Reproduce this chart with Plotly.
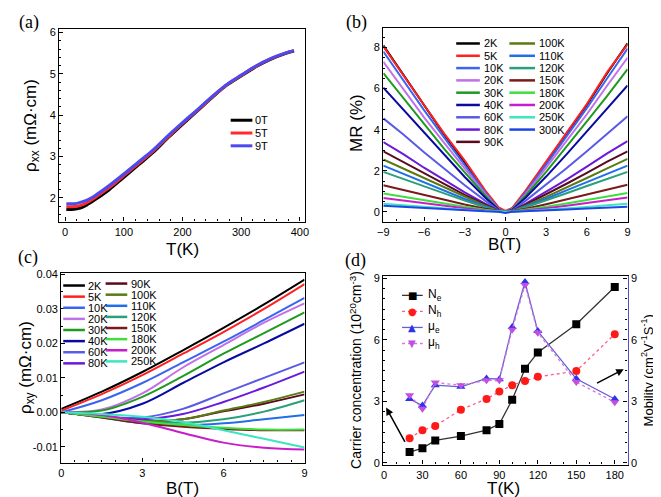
import plotly.graph_objects as go

W, H = 661, 497
FONT = "Liberation Sans, Arial, sans-serif"
SERIF = "Liberation Serif, Times New Roman, serif"

# ---------------- (a) rho_xx vs T ----------------
T_a = [2, 10, 20, 30, 40, 50, 75, 100, 125, 150, 175, 200, 225, 250, 275, 300, 325, 350, 375, 390]
rho_0T = [1.72, 1.72, 1.74, 1.78, 1.86, 1.95, 2.20, 2.50, 2.80, 3.10, 3.45, 3.78, 4.10, 4.42, 4.72, 4.95, 5.17, 5.35, 5.49, 5.55]
rho_5T = [1.79, 1.79, 1.80, 1.84, 1.91, 2.00, 2.25, 2.54, 2.83, 3.13, 3.47, 3.80, 4.11, 4.43, 4.73, 4.96, 5.18, 5.36, 5.50, 5.56]
rho_9T = [1.86, 1.86, 1.87, 1.91, 1.97, 2.05, 2.30, 2.58, 2.87, 3.16, 3.50, 3.82, 4.13, 4.45, 4.74, 4.97, 5.19, 5.37, 5.50, 5.56]
fields_a = ["0T", "5T", "9T"]
colors_a = ["#000000", "#ff2a2a", "#4a4af0"]

# ---------------- (b) MR vs B ----------------
B_b = [-9, -7.5, -6, -4.5, -3, -1.5, -0.5, 0, 0.5, 1.5, 3, 4.5, 6, 7.5, 9]
mr_2K = [8.10, 6.65, 5.15, 3.75, 2.40, 1.00, 0.16, 0.00, 0.16, 1.00, 2.40, 3.80, 5.20, 6.75, 8.20]
mr_5K = [8.05, 6.60, 5.20, 3.80, 2.50, 1.05, 0.22, 0.05, 0.20, 1.05, 2.45, 3.85, 5.25, 6.80, 8.15]
mr_10K = [7.80, 6.35, 4.95, 3.60, 2.30, 0.95, 0.15, 0.00, 0.15, 0.95, 2.30, 3.65, 5.05, 6.50, 7.95]
mr_20K = [7.30, 5.95, 4.60, 3.35, 2.10, 0.88, 0.13, 0.00, 0.13, 0.88, 2.15, 3.45, 4.75, 6.15, 7.50]
mr_30K = [6.75, 5.50, 4.25, 3.05, 1.92, 0.80, 0.12, 0.00, 0.12, 0.80, 1.95, 3.15, 4.40, 5.65, 6.95]
mr_40K = [6.05, 4.95, 3.85, 2.75, 1.70, 0.70, 0.10, 0.00, 0.10, 0.70, 1.72, 2.80, 3.90, 5.00, 6.15]
mr_60K = [4.55, 3.75, 2.90, 2.10, 1.30, 0.55, 0.08, 0.00, 0.08, 0.55, 1.32, 2.12, 2.95, 3.80, 4.65]
mr_80K = [3.40, 2.80, 2.15, 1.55, 0.95, 0.40, 0.06, 0.00, 0.06, 0.40, 0.97, 1.57, 2.20, 2.85, 3.45]
mr_90K = [2.95, 2.42, 1.87, 1.35, 0.83, 0.35, 0.05, 0.00, 0.05, 0.35, 0.84, 1.37, 1.90, 2.45, 2.95]
mr_100K = [2.55, 2.10, 1.62, 1.17, 0.72, 0.30, 0.05, 0.00, 0.05, 0.30, 0.73, 1.18, 1.65, 2.12, 2.58]
mr_110K = [2.25, 1.85, 1.43, 1.03, 0.63, 0.27, 0.04, 0.00, 0.04, 0.27, 0.64, 1.05, 1.45, 1.87, 2.25]
mr_120K = [1.95, 1.60, 1.24, 0.90, 0.55, 0.23, 0.04, 0.00, 0.04, 0.23, 0.56, 0.91, 1.26, 1.62, 1.95]
mr_150K = [1.30, 1.06, 0.82, 0.59, 0.36, 0.15, 0.03, 0.00, 0.03, 0.15, 0.37, 0.60, 0.84, 1.08, 1.32]
mr_180K = [0.90, 0.73, 0.56, 0.40, 0.25, 0.10, 0.02, 0.00, 0.02, 0.10, 0.25, 0.41, 0.57, 0.74, 0.92]
mr_200K = [0.68, 0.55, 0.42, 0.30, 0.18, 0.07, 0.01, 0.00, 0.01, 0.07, 0.18, 0.30, 0.43, 0.56, 0.70]
mr_250K = [0.40, 0.32, 0.24, 0.17, 0.10, 0.04, 0.01, 0.00, 0.01, 0.04, 0.10, 0.17, 0.24, 0.32, 0.40]
mr_300K = [0.30, 0.24, 0.18, 0.12, 0.07, 0.03, 0.01, -0.05, 0.01, 0.03, 0.07, 0.12, 0.17, 0.21, 0.25]
temps_b = ["2K", "5K", "10K", "20K", "30K", "40K", "60K", "80K", "90K",
           "100K", "110K", "120K", "150K", "180K", "200K", "250K", "300K"]
series_b = [mr_2K, mr_5K, mr_10K, mr_20K, mr_30K, mr_40K, mr_60K, mr_80K, mr_90K,
            mr_100K, mr_110K, mr_120K, mr_150K, mr_180K, mr_200K, mr_250K, mr_300K]

temp_colors = {
    "2K": "#000000", "5K": "#ff2020", "10K": "#3c64f0", "20K": "#c071e8",
    "30K": "#1e9a1e", "40K": "#0a0aa0", "60K": "#5a5ae6", "80K": "#6a1ad8",
    "90K": "#5a0a1e", "100K": "#5a7a14", "110K": "#1f6fe8", "120K": "#2aa07a",
    "150K": "#7a1a1a", "180K": "#3ce03c", "200K": "#c81ec8", "250K": "#3ce6c0",
    "300K": "#1e46e6",
}

# ---------------- (c) rho_xy vs B ----------------
B_c = [0, 1.5, 3, 4.5, 6, 7.5, 9]
rxy_2K = [0.0010, 0.0060, 0.0117, 0.0180, 0.0245, 0.0313, 0.0385]
rxy_5K = [0.0005, 0.0053, 0.0108, 0.0170, 0.0233, 0.0300, 0.0372]
rxy_10K = [0.0000, 0.0035, 0.0085, 0.0145, 0.0205, 0.0268, 0.0332]
rxy_20K = [0.0000, 0.0008, 0.0055, 0.0130, 0.0195, 0.0260, 0.0316]
rxy_30K = [0.0000, 0.0005, 0.0045, 0.0105, 0.0170, 0.0230, 0.0290]
rxy_40K = [0.0000, -0.0005, 0.0025, 0.0085, 0.0145, 0.0200, 0.0257]
rxy_60K = [0.0000, -0.0012, -0.0015, 0.0010, 0.0055, 0.0100, 0.0145]
rxy_80K = [0.0000, -0.0012, -0.0020, -0.0005, 0.0030, 0.0072, 0.0118]
rxy_90K = [0.0000, -0.0012, -0.0025, -0.0020, 0.0003, 0.0025, 0.0052]
rxy_100K = [0.0000, -0.0012, -0.0025, -0.0020, 0.0005, 0.0030, 0.0060]
rxy_110K = [0.0000, -0.0015, -0.0032, -0.0038, -0.0032, -0.0020, -0.0008]
rxy_120K = [0.0000, -0.0012, -0.0027, -0.0030, -0.0020, 0.0002, 0.0035]
rxy_150K = [0.0000, -0.0015, -0.0032, -0.0042, -0.0048, -0.0052, -0.0052]
rxy_180K = [0.0000, -0.0013, -0.0027, -0.0037, -0.0045, -0.0050, -0.0050]
rxy_200K = [0.0000, -0.0008, -0.0030, -0.0060, -0.0088, -0.0103, -0.0108]
rxy_250K = [0.0000, -0.0005, -0.0013, -0.0028, -0.0052, -0.0077, -0.0102]
temps_c = ["2K", "5K", "10K", "20K", "30K", "40K", "60K", "80K",
           "90K", "100K", "110K", "120K", "150K", "180K", "200K", "250K"]
series_c = [rxy_2K, rxy_5K, rxy_10K, rxy_20K, rxy_30K, rxy_40K, rxy_60K, rxy_80K,
            rxy_90K, rxy_100K, rxy_110K, rxy_120K, rxy_150K, rxy_180K, rxy_200K, rxy_250K]
yticks_c = [-0.01, 0.00, 0.01, 0.02, 0.03, 0.04]
yticktext_c = ["-0.01", "0.00", "0.01", "0.02", "0.03", "0.04"]

# ---------------- (d) carriers and mobility ----------------
T_d = [20, 30, 40, 60, 80, 90, 100, 110, 120, 150, 180]
n_e = [0.53, 0.72, 1.10, 1.31, 1.60, 1.90, 3.08, 4.59, 5.39, 6.76, 8.58]
n_h = [1.21, 1.60, 1.80, 2.60, 3.12, 3.48, 3.79, 4.00, 4.20, 4.48, 6.28]
mu_e = [3.12, 2.80, 3.79, 3.71, 4.12, 4.08, 6.63, 8.82, 6.43, 4.10, 3.12]
mu_h = [3.30, 2.64, 3.92, 3.79, 4.03, 4.03, 6.50, 8.68, 6.35, 3.95, 2.96]


def fx(px):
    return px / W


def fy(py):
    return 1 - py / H


fig = go.Figure()

# (a)
for name, col, ys in zip(fields_a, colors_a, [rho_0T, rho_5T, rho_9T]):
    fig.add_trace(go.Scatter(x=T_a, y=ys, mode="lines", line=dict(color=col, width=3, shape="spline"),
                             xaxis="x", yaxis="y", showlegend=False, name=name))
# (b)
for name, ys in zip(temps_b, series_b):
    fig.add_trace(go.Scatter(x=B_b, y=ys, mode="lines", line=dict(color=temp_colors[name], width=2),
                             xaxis="x2", yaxis="y2", showlegend=False, name=name))
# (c)
for name, ys in zip(temps_c, series_c):
    fig.add_trace(go.Scatter(x=B_c, y=ys, mode="lines",
                             line=dict(color=temp_colors[name], width=2, shape="spline"),
                             xaxis="x3", yaxis="y3", showlegend=False, name=name))
# (d)
d_specs = [
    ("N<sub>e</sub>", n_e, "y4", "#333333", "solid", "square", "#000000"),
    ("N<sub>h</sub>", n_h, "y4", "#ff5a8a", "dot", "circle", "#ff1a1a"),
    ("μ<sub>e</sub>", mu_e, "y5", "#6060d0", "solid", "triangle-up", "#3030f0"),
    ("μ<sub>h</sub>", mu_h, "y5", "#e070e0", "dot", "triangle-down", "#c050e0"),
]
for name, ys, ya, lc, dash, sym, mc in d_specs:
    fig.add_trace(go.Scatter(x=T_d, y=ys, mode="lines+markers",
                             line=dict(color=lc, width=1.3, dash=dash),
                             marker=dict(symbol=sym, size=8, color=mc),
                             xaxis="x4", yaxis=ya, showlegend=False, name=name))

axis_common = dict(showline=True, linecolor="black", linewidth=1.3, mirror=True,
                   ticks="inside", ticklen=4, tickwidth=1.2, tickcolor="black",
                   showgrid=False, zeroline=False,
                   tickfont=dict(family=FONT, size=11, color="black"),
                   minor=dict(ticks="inside", ticklen=2, tickcolor="black"))

fig.update_layout(
    width=W, height=H, margin=dict(l=0, r=0, t=0, b=0),
    paper_bgcolor="white", plot_bgcolor="white", showlegend=False,
    xaxis=dict(domain=[fx(46), fx(295)], range=[-10, 408], tickvals=[0, 100, 200, 300, 400],
               anchor="y", **axis_common),
    yaxis=dict(domain=[fy(213), fy(17)], range=[1.43, 6.09], tickvals=[2, 3, 4, 5, 6],
               anchor="x", **axis_common),
    xaxis2=dict(domain=[fx(375), fx(623)], range=[-9, 9], tickvals=[-9, -6, -3, 0, 3, 6, 9],
                anchor="y2", **axis_common),
    yaxis2=dict(domain=[fy(213), fy(16)], range=[-0.47, 8.96], tickvals=[0, 2, 4, 6, 8],
                anchor="x2", **axis_common),
    xaxis3=dict(domain=[fx(48), fx(295)], range=[0, 9], tickvals=[0, 3, 6, 9],
                anchor="y3", **axis_common),
    yaxis3=dict(domain=[fy(458), fy(265)], range=[-0.0146, 0.0405], tickvals=yticks_c,
                ticktext=yticktext_c, anchor="x3", **axis_common),
    xaxis4=dict(domain=[fx(375), fx(623)], range=[-0.5, 190], tickvals=[0, 30, 60, 90, 120, 150, 180],
                anchor="y4", **axis_common),
    yaxis4=dict(domain=[fy(460), fy(268)], range=[-0.08, 9.13], tickvals=[0, 3, 6, 9],
                anchor="x4", **{**axis_common, "mirror": False}),
    yaxis5=dict(range=[-0.08, 9.13], tickvals=[0, 3, 6, 9], overlaying="y4", side="right",
                anchor="x4", **{**axis_common, "mirror": False, "linecolor": "#5050c8"}),
)

shapes = []
annos = []


def text(px, py, s, size=11, angle=0, xanchor="center", family=FONT):
    annos.append(dict(x=fx(px), y=fy(py), xref="paper", yref="paper", text=s, showarrow=False,
                      xanchor=xanchor, yanchor="middle", textangle=angle,
                      font=dict(family=family, size=size, color="black")))


def legend(names, colors, x0, x1, xt, ytop, dy, width=2.5):
    for i, (nm, col) in enumerate(zip(names, colors)):
        y = ytop + i * dy
        shapes.append(dict(type="line", xref="paper", yref="paper", x0=fx(x0), x1=fx(x1),
                           y0=fy(y), y1=fy(y), line=dict(color=col, width=width)))
        text(xt, y, nm, size=11, xanchor="left")


# (a) legend
legend(fields_a, colors_a, 220, 242, 243, 110, 13, width=3)
# (b) legend, two columns
legend(temps_b[:9], [temp_colors[t] for t in temps_b[:9]], 449, 473, 475, 32, 12.5)
legend(temps_b[9:], [temp_colors[t] for t in temps_b[9:]], 503, 529, 531, 32, 12.5)
# (c) legend, two columns
legend(temps_c[:8], [temp_colors[t] for t in temps_c[:8]], 50, 72, 73, 278, 11.3)
legend(temps_c[8:], [temp_colors[t] for t in temps_c[8:]], 93, 115, 117, 276, 11.3)

# (d) legend with marker glyphs
marker_glyph = {"square": "■", "circle": "●", "triangle-up": "▲", "triangle-down": "▼"}
for i, (name, ys, ya, lc, dash, sym, mc) in enumerate(d_specs):
    y = 288 + i * 16.3
    shapes.append(dict(type="line", xref="paper", yref="paper", x0=fx(394), x1=fx(415),
                       y0=fy(y), y1=fy(y), line=dict(color=lc, width=1.3, dash=dash)))
    annos.append(dict(x=fx(404.5), y=fy(y), xref="paper", yref="paper", text=marker_glyph[sym],
                      showarrow=False, xanchor="center", yanchor="middle",
                      font=dict(family="DejaVu Sans", size=10, color=mc)))
    text(418, y, name, size=12, xanchor="left")

# arrows in (d)
annos.append(dict(x=1.7, y=2.7, ax=17, ay=0.96, xref="x4", yref="y4", axref="x4", ayref="y4",
                  text="", showarrow=True, arrowhead=2, arrowsize=1, arrowwidth=1.5, arrowcolor="black"))
annos.append(dict(x=187, y=4.57, ax=165, ay=3.85, xref="x4", yref="y4", axref="x4", ayref="y4",
                  text="", showarrow=True, arrowhead=2, arrowsize=1, arrowwidth=1.5, arrowcolor="black"))

# axis titles
text(171, 241, "T(K)", size=17)
text(18, 115, "ρ<sub>xx</sub> (mΩ·cm)", size=17, angle=-90)
text(498, 236, "B(T)", size=17)
text(347, 113, "MR (%)", size=17, angle=-90)
text(171, 484, "B(T)", size=17)
text(13, 361, "ρ<sub>xy</sub> (mΩ·cm)", size=17, angle=-90)
text(497, 484, "T(K)", size=17)
text(347, 364, "Carrier concentration (10<sup>20</sup>cm<sup>-3</sup>)", size=14, angle=-90)
text(643, 364, "Mobility (cm<sup>2</sup>V<sup>-1</sup>S<sup>-1</sup>)", size=13, angle=-90)

# panel labels
text(15, 11, "(a)", size=18, family=SERIF)
text(348, 11, "(b)", size=18, family=SERIF)
text(14, 250, "(c)", size=18, family=SERIF)
text(347, 253, "(d)", size=18, family=SERIF)

fig.update_layout(shapes=shapes, annotations=annos)
fig.write_html("out.html")
